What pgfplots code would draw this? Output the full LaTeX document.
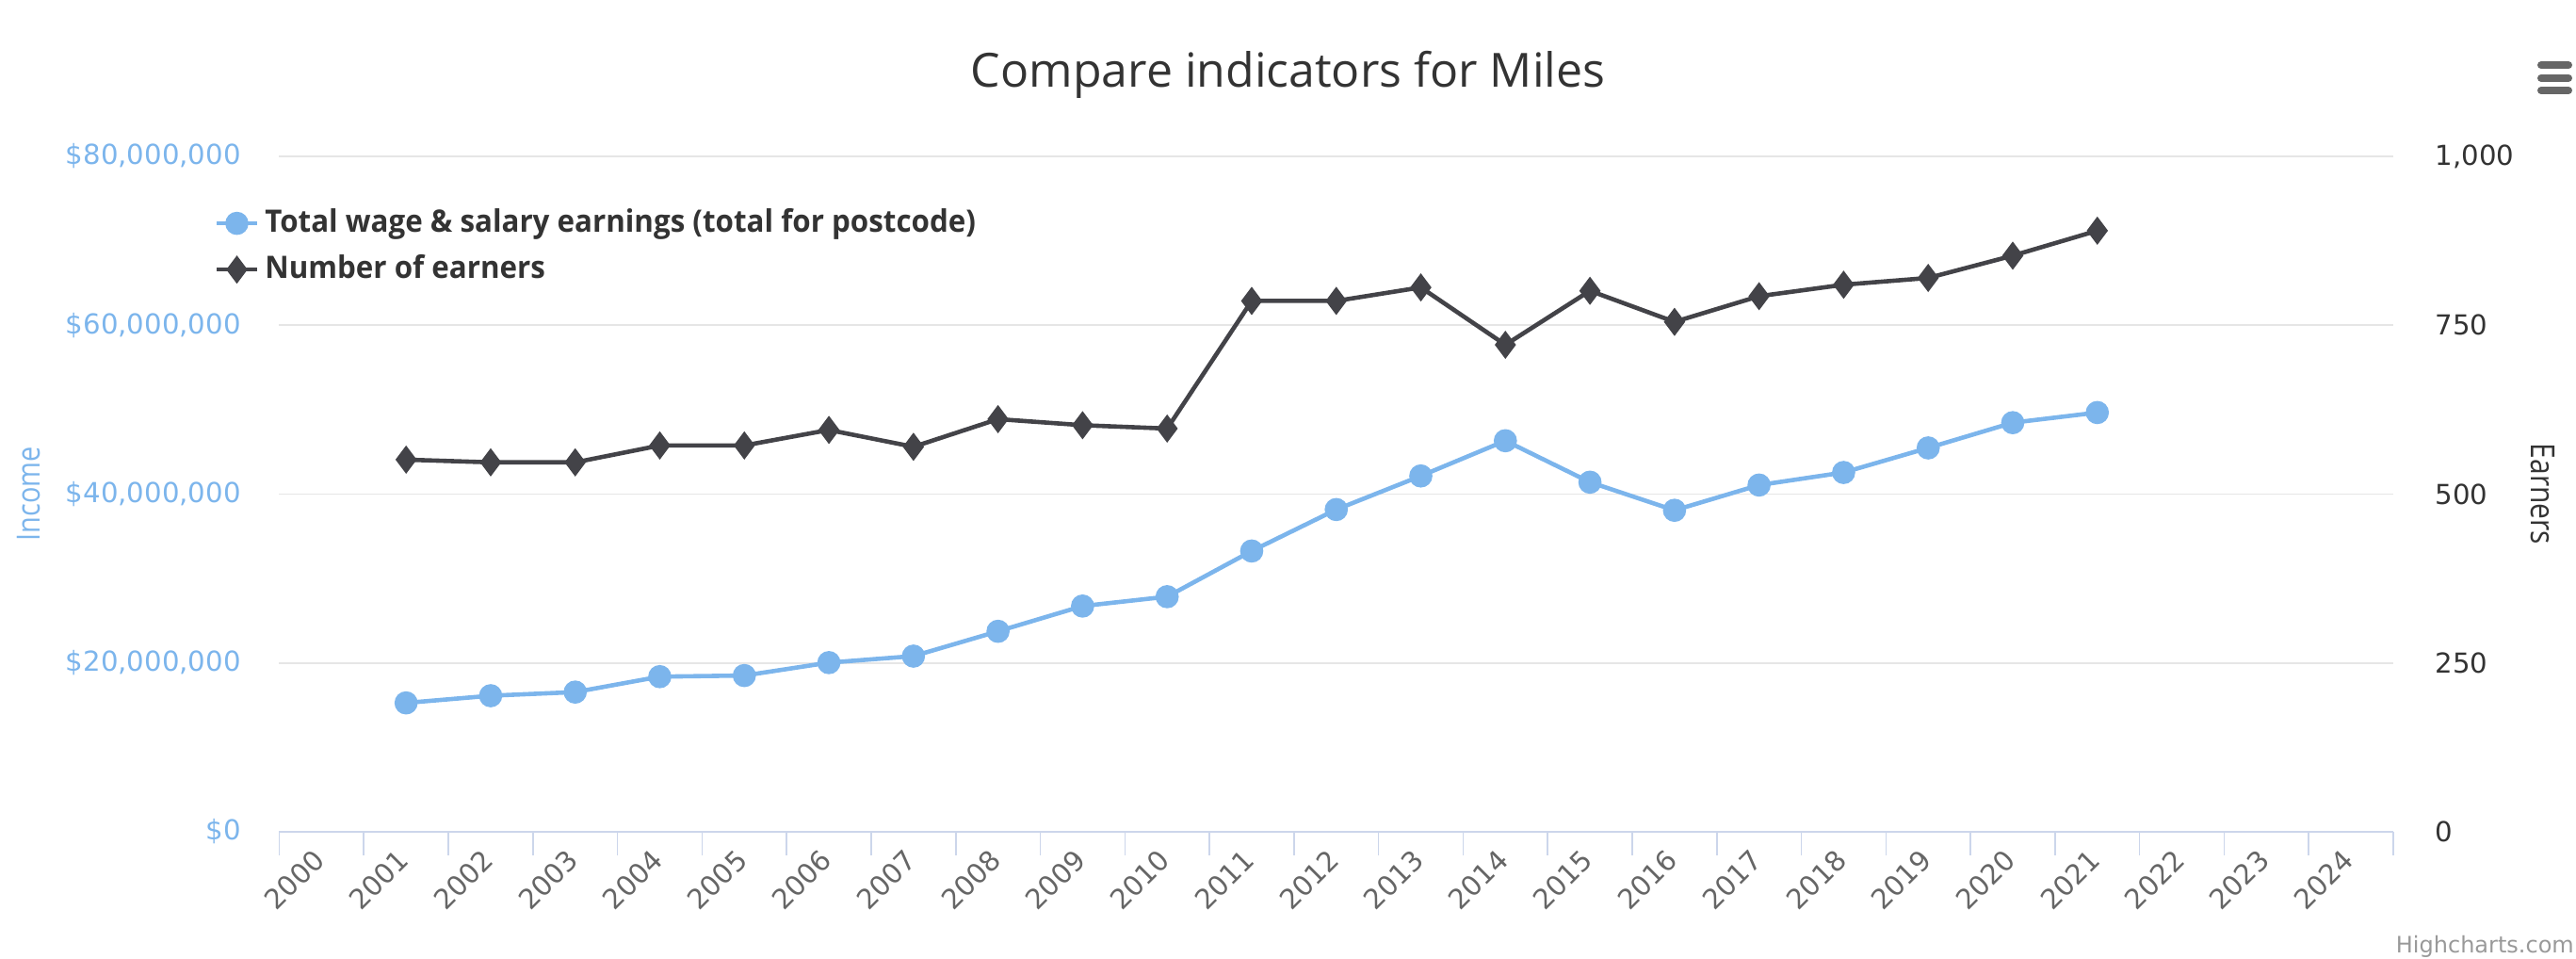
\documentclass[border=0pt]{standalone}
\usepackage{pgfplots}
\usepackage{pgfplotstable}
\pgfplotsset{compat=1.18}
\usepackage{fontspec}
\setmainfont{Open Sans}
\newfontfamily\dejavu{DejaVu Sans}
\newfontfamily\narrow{Open Sans}[FakeStretch=0.85]
\newfontfamily\legfont{Open Sans}[FakeStretch=0.955]
\definecolor{hcblue}{HTML}{7CB5EC}
\definecolor{hcdark}{HTML}{434348}
\definecolor{hctitle}{HTML}{333333}
\definecolor{hcgray}{HTML}{666666}
\definecolor{hcgrid}{HTML}{E6E6E6}
\definecolor{hcaxis}{HTML}{CCD6EB}
\definecolor{hccredit}{HTML}{999999}

\pgfplotstableread{
x income
1 15270000
2 16120000
3 16550000
4 18380000
5 18510000
6 20040000
7 20810000
8 23750000
9 26740000
10 27850000
11 33260000
12 38170000
13 42150000
14 46320000
15 41410000
16 38080000
17 41070000
18 42560000
19 45470000
20 48460000
21 49660000
}\incometable

\pgfplotstableread{
x earners
1 551
2 547
3 547
4 572
5 572
6 595
7 570
8 611
9 602
10 597
11 786
12 786
13 806
14 721
15 801
16 755
17 793
18 810
19 820
20 853
21 890
}\earnerstable

\newcommand{\tickfont}{\dejavu\fontsize{7.3}{8.5}\selectfont}

\begin{document}
\begin{tikzpicture}
\path[use as bounding box] (0,0) rectangle (683.75pt,254.5pt);
\begin{axis}[
  at={(74.125pt,33.75pt)}, anchor=south west,
  width=561.125pt, height=179.25pt, scale only axis,
  xmin=-0.5, xmax=24.5, ymin=0, ymax=80000000,
  scaled y ticks=false,
  xtick={0,...,24},
  xticklabels={2000,2001,2002,2003,2004,2005,2006,2007,2008,2009,2010,2011,2012,2013,2014,2015,2016,2017,2018,2019,2020,2021,2022,2023,2024},
  minor xtick={-0.5,0.5,...,24.5},
  ytick={0,20000000,40000000,60000000,80000000},
  yticklabels={\$0,{\$20,000,000},{\$40,000,000},{\$60,000,000},{\$80,000,000}},
  axis x line*=bottom, axis y line*=left,
  axis line style={-},
  y axis line style={draw=none},
  x axis line style={draw=hcaxis, line width=0.6pt},
  xtick pos=left, ytick pos=left,
  tick align=outside, major tick length=0pt, minor tick length=6.25pt,
  minor tick style={draw=hcaxis, line width=0.4pt},
  ymajorgrids, grid style={draw=hcgrid, line width=0.45pt},
  xticklabel style={xshift=-0.5pt, yshift=-6pt, font=\tickfont, text=hcgray, rotate=45, anchor=east, inner sep=0pt},
  yticklabel style={font=\tickfont, text=hcblue, anchor=east, inner sep=0pt, xshift=-10pt},
  every axis y label/.style={at={(axis description cs:-0.1183,0.5)}, rotate=90, anchor=center, font=\narrow\fontsize{8.5}{10}\selectfont, text=hcblue},
  ylabel={Income},
  clip=false,
]
\addplot[color=hcblue, line width=1.15pt, mark=*, mark size=2.5pt, mark options={fill=hcblue, draw=hcblue}] table[x=x, y=income] {\incometable};
\end{axis}

\begin{axis}[
  at={(74.125pt,33.75pt)}, anchor=south west,
  width=561.125pt, height=179.25pt, scale only axis,
  xmin=-0.5, xmax=24.5, ymin=0, ymax=1000,
  axis x line=none, axis y line*=right,
  axis line style={-},
  y axis line style={draw=none},
  ytick={0,250,500,750,1000}, yticklabels={0,250,500,750,{1,000}},
  major tick length=0pt,
  yticklabel style={font=\tickfont, text=hctitle, anchor=west, inner sep=0pt, xshift=11pt},
  every axis y label/.style={at={(axis description cs:1.0708,0.5)}, rotate=-90, anchor=center, font=\narrow\fontsize{8.8}{10}\selectfont, text=hctitle},
  ylabel={Earners},
  clip=false,
  legend image code/.code={\draw[mark repeat=2,mark phase=2,#1] plot coordinates {(0pt,0pt) (5.375pt,0pt) (10.75pt,0pt)};},
  legend cell align=left,
  legend style={at={(axis description cs:-0.031,0.932)}, anchor=north west, draw=none, fill=none,
    font=\legfont\bfseries\fontsize{8.2}{9.8}\selectfont, text=hctitle, inner sep=0pt, row sep=1.5pt,
    nodes={inner sep=1.5pt}},
]
\addlegendimage{color=hcblue, line width=1.15pt, mark=*, mark size=2.5pt, mark options={fill=hcblue, draw=hcblue}}
\addlegendentry{Total wage \& salary earnings (total for postcode)}
\addplot[color=hcdark, line width=1.15pt, mark=diamond*, mark size=2.8pt, mark options={fill=hcdark, draw=hcdark}] table[x=x, y=earners] {\earnerstable};
\addlegendentry{Number of earners}
\end{axis}

\node[anchor=base, font=\fontsize{12.5}{14}\selectfont, text=hctitle] at (341.9pt,231.4pt) {Compare indicators for Miles};
\draw[hcgray, line width=2pt, line cap=round] (674.5pt,237.2pt) -- (681.75pt,237.2pt);
\draw[hcgray, line width=2pt, line cap=round] (674.5pt,233.8pt) -- (681.75pt,233.8pt);
\draw[hcgray, line width=2pt, line cap=round] (674.5pt,230.5pt) -- (681.75pt,230.5pt);
\node[anchor=base east, font=\dejavu\fontsize{6}{7}\selectfont, text=hccredit, inner sep=0pt] at (683.4pt,1.5pt) {Highcharts.com};
\end{tikzpicture}
\end{document}
